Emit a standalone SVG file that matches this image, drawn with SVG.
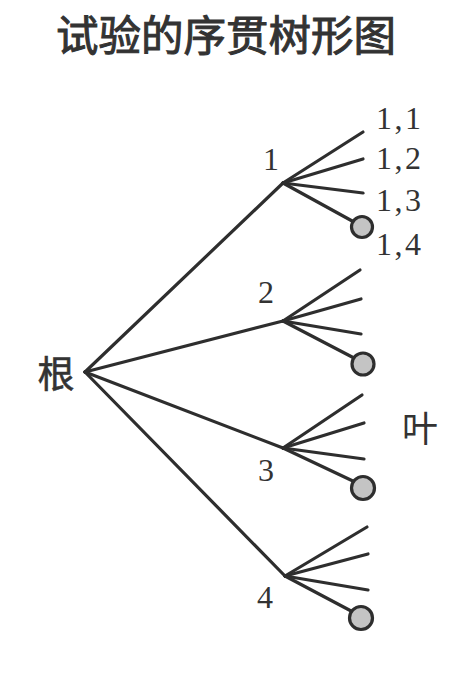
<svg xmlns="http://www.w3.org/2000/svg" width="473" height="677" viewBox="0 0 473 677">
<style>
.e{stroke:#2e2e2e;stroke-width:3.2;fill:none;stroke-linecap:round}
.leaf{fill:#c4c4c4;stroke:#2e2e2e;stroke-width:3.2}
.num{font-family:"Liberation Serif","DejaVu Serif",serif;font-size:32px;fill:#333}
.lbl{letter-spacing:2.5px}
.cjk{font-family:"Noto Sans CJK SC","DejaVu Sans",sans-serif;fill:#333}
</style>
<rect width="473" height="677" fill="#ffffff"/>
<text class="cjk" x="226" y="51" font-size="42.5" text-anchor="middle" stroke="#333" stroke-width="1">试验的序贯树形图</text>
<g id="connectors">
<line class="e" x1="85" y1="372" x2="283" y2="183"/>
<line class="e" x1="85" y1="372" x2="283" y2="321"/>
<line class="e" x1="85" y1="372" x2="283" y2="448"/>
<line class="e" x1="85" y1="372" x2="285" y2="576"/>
<line class="e" x1="283" y1="183" x2="363" y2="132"/>
<line class="e" x1="283" y1="183" x2="363" y2="159"/>
<line class="e" x1="283" y1="183" x2="363" y2="193"/>
<line class="e" x1="283" y1="183" x2="354" y2="222"/>
<line class="e" x1="283" y1="321" x2="360" y2="270"/>
<line class="e" x1="283" y1="321" x2="361" y2="299"/>
<line class="e" x1="283" y1="321" x2="361" y2="334"/>
<line class="e" x1="283" y1="321" x2="354" y2="358"/>
<line class="e" x1="283" y1="448" x2="362" y2="395"/>
<line class="e" x1="283" y1="448" x2="364" y2="423"/>
<line class="e" x1="283" y1="448" x2="364" y2="459"/>
<line class="e" x1="283" y1="448" x2="355" y2="482"/>
<line class="e" x1="285" y1="576" x2="367" y2="527"/>
<line class="e" x1="285" y1="576" x2="368" y2="554"/>
<line class="e" x1="285" y1="576" x2="368" y2="590"/>
<line class="e" x1="285" y1="576" x2="353" y2="612"/>
</g>
<g id="root"><text class="cjk" x="56" y="388" font-size="37" text-anchor="middle" stroke="#333" stroke-width="0.6">根</text></g>
<g id="n1"><text class="num" x="271" y="170" text-anchor="middle">1</text></g>
<g id="n2"><text class="num" x="266" y="303" text-anchor="middle">2</text></g>
<g id="n3"><text class="num" x="266" y="481" text-anchor="middle">3</text></g>
<g id="n4"><text class="num" x="265" y="608" text-anchor="middle">4</text></g>
<g id="leaf11"><text class="num lbl" x="376" y="129">1,1</text></g>
<g id="leaf12"><text class="num lbl" x="376" y="169">1,2</text></g>
<g id="leaf13"><text class="num lbl" x="376" y="211">1,3</text></g>
<g id="leaf14"><circle class="leaf" cx="362" cy="227" r="10.5"/><text class="num lbl" x="376" y="255">1,4</text></g>
<g id="leaf24"><circle class="leaf" cx="363" cy="364" r="11"/></g>
<g id="leaf34"><circle class="leaf" cx="363" cy="488" r="11.5"/></g>
<g id="leaf44"><circle class="leaf" cx="361" cy="618" r="11.5"/></g>
<g id="leafLabel"><text class="cjk" x="420" y="442" font-size="36" text-anchor="middle">叶</text></g>
</svg>
